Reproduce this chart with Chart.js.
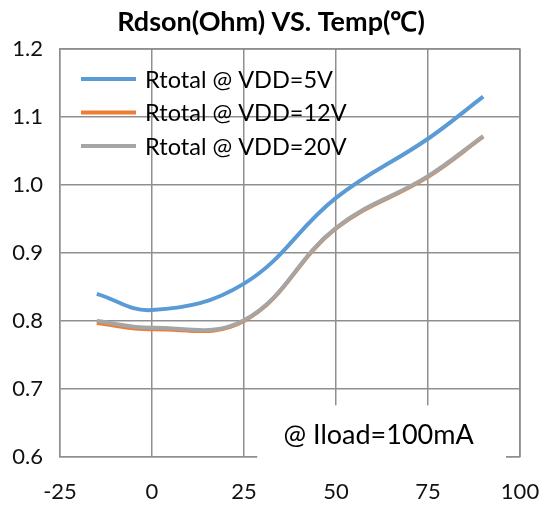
<!DOCTYPE html>
<html>
<head>
<meta charset="utf-8">
<script src="https://cdn.jsdelivr.net/npm/chart.js@4/dist/chart.umd.min.js"></script>
<style>
  html, body { margin: 0; padding: 0; background: #fff; }
  #wrap { width: 542px; height: 508px; }
</style>
</head>
<body>
<div id="wrap"><canvas id="myChart" width="542" height="508"></canvas></div>
<script>
/* data */
var temps = [-15, 0, 25, 50, 75, 90];
var vdd5 = [0.840, 0.816, 0.855, 0.981, 1.068, 1.130];
var vdd12 = [0.797, 0.788, 0.800, 0.936, 1.012, 1.071];
var vdd20 = [0.800, 0.790, 0.801, 0.937, 1.013, 1.072];
var seriesNames = ['Rtotal @ VDD=5V', 'Rtotal @ VDD=12V', 'Rtotal @ VDD=20V'];
var xTicks = [-25, 0, 25, 50, 75, 100];
var yTicks = [0.6, 0.7, 0.8, 0.9, 1.0, 1.1, 1.2];
var noteText = '@ Iload=100mA';

var FONT = 'Lato, "Open Sans", sans-serif';
var gridColor = '#8f8f8f';

function pts(vals) {
    return temps.map(function (t, i) { return { x: t, y: vals[i] }; });
}

// legend drawn inside the plot (top left), like the excel one
var innerLegend = {
    id: 'innerLegend',
    afterDatasetsDraw: function (chart) {
        var ctx = chart.ctx;
        var area = chart.chartArea;
        ctx.save();
        ctx.font = '23.5px ' + FONT;
        ctx.textBaseline = 'middle';
        ctx.fillStyle = '#000';
        chart.data.datasets.forEach(function (ds, i) {
            var y = area.top + 30 + i * 33.5;
            ctx.strokeStyle = ds.borderColor;
            ctx.lineWidth = 4;
            ctx.beginPath();
            ctx.moveTo(area.left + 21, y);
            ctx.lineTo(area.left + 76, y);
            ctx.stroke();
            ctx.fillText(ds.label, area.left + 85, y + 1);
        });
        ctx.restore();
    }
};

// white text box bottom right
var noteBox = {
    id: 'noteBox',
    afterDraw: function (chart) {
        var ctx = chart.ctx;
        var xs = chart.scales.x, ys = chart.scales.y;
        var x0 = xs.getPixelForValue(28.6), x1 = xs.getPixelForValue(96.2);
        var y0 = ys.getPixelForValue(0.676), y1 = ys.getPixelForValue(0.592);
        ctx.save();
        ctx.fillStyle = '#fff';
        ctx.fillRect(x0, y0, x1 - x0, y1 - y0);
        ctx.font = '27px ' + FONT;
        ctx.fillStyle = '#000';
        ctx.textAlign = 'center';
        ctx.textBaseline = 'middle';
        ctx.fillText(noteText, (x0 + x1) / 2 - 3, (y0 + y1) / 2 + 1);
        ctx.restore();
    }
};

var ctx = document.getElementById('myChart').getContext('2d');
var myChart = new Chart(ctx, {
    type: 'line',
    data: {
        datasets: [
            { label: seriesNames[0], data: pts(vdd5), borderColor: '#5b9bd5', order: 1 },
            { label: seriesNames[1], data: pts(vdd12), borderColor: '#ed7d31', order: 3 },
            { label: seriesNames[2], data: pts(vdd20), borderColor: '#a5a5a5', order: 2 }
        ]
    },
    options: {
        responsive: false,
        animation: false,
        datasets: {
            line: {
                borderWidth: 4,
                pointRadius: 0,
                tension: 0.4,
                fill: false
            }
        },
        layout: {
            padding: { left: 0, right: 0, top: 0, bottom: 0 }
        },
        scales: {
            x: {
                type: 'linear',
                min: xTicks[0],
                max: xTicks[xTicks.length - 1],
                afterBuildTicks: function (s) { s.ticks = xTicks.map(function (v) { return { value: v }; }); },
                afterFit: function (s) { s.height = 51; s.paddingRight = 22; s.paddingLeft = 0; },
                grid: { color: gridColor, lineWidth: 1.5, drawTicks: false },
                border: { color: gridColor, width: 1.5 },
                ticks: {
                    color: '#111',
                    padding: 22,
                    maxRotation: 0,
                    font: { family: FONT, size: 22 }
                }
            },
            y: {
                min: yTicks[0],
                max: yTicks[yTicks.length - 1],
                afterBuildTicks: function (s) { s.ticks = yTicks.map(function (v) { return { value: v }; }); },
                afterFit: function (s) { s.width = 60; },
                grid: { color: gridColor, lineWidth: 1.5, drawTicks: false },
                border: { color: gridColor, width: 1.5 },
                ticks: {
                    color: '#111',
                    padding: 17,
                    font: { family: FONT, size: 22 },
                    callback: function (v) { return v.toFixed(1); }
                }
            }
        },
        plugins: {
            legend: { display: false },
            tooltip: { enabled: false },
            title: {
                display: true,
                text: 'Rdson(Ohm) VS. Temp(℃)',
                color: '#000',
                font: { family: FONT, size: 27, weight: 'bold' },
                padding: { top: 6, bottom: 10.6 }
            }
        }
    },
    plugins: [innerLegend, noteBox, {
        // right + top frame lines of the plot area
        id: 'frame',
        beforeDatasetsDraw: function (chart) {
            var a = chart.chartArea, c = chart.ctx;
            c.save();
            c.strokeStyle = gridColor;
            c.lineWidth = 1.5;
            c.beginPath();
            c.moveTo(a.left, a.top);
            c.lineTo(a.right, a.top);
            c.lineTo(a.right, a.bottom);
            c.stroke();
            c.restore();
        }
    }]
});
</script>
</body>
</html>
